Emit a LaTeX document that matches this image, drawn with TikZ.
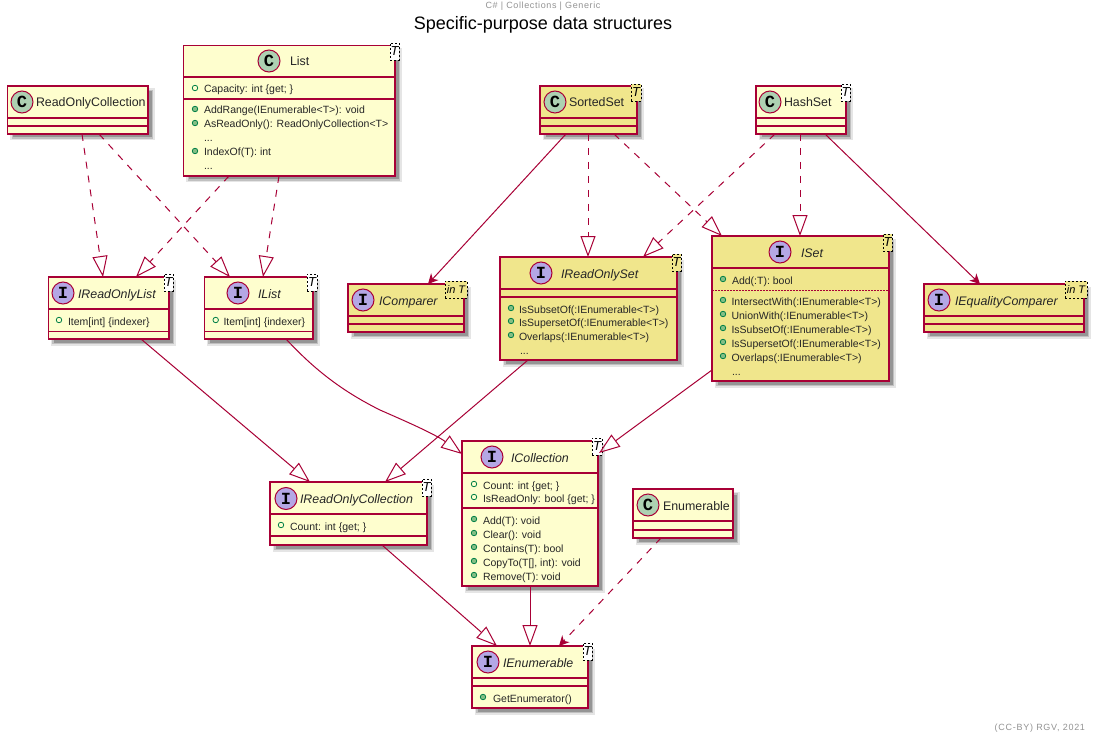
\documentclass[tikz,border=0pt]{standalone}
\usepackage{fontspec}
\setmainfont{Liberation Sans}
\newfontfamily\iconfont{Liberation Mono}
\usetikzlibrary{arrows.meta,calc}
\definecolor{umlred}{HTML}{A80036}
\definecolor{umlyel}{HTML}{FEFECE}
\definecolor{umlkha}{HTML}{F0E68C}
\definecolor{umlcls}{HTML}{ADD1B2}
\definecolor{umlint}{HTML}{B4A7E5}
\definecolor{umlgrn}{HTML}{038048}
\definecolor{umlmet}{HTML}{84BE84}
\tikzset{
  x=1pt,y=-1pt,
  boxstyle/.style={draw=umlred,line width=1.5pt,inner sep=0pt,outer sep=0pt,rectangle},
  sepline/.style={draw=umlred,line width=1.5pt},
  txt/.style={inner sep=0pt,outer sep=0pt,anchor=base west,text=black!85},
  nametxt/.style={txt,font=\fontsize{12.4}{15}\selectfont},
  inametxt/.style={txt,font=\fontsize{12.4}{15}\selectfont\itshape},
  memtxt/.style={txt,font=\fontsize{10.5}{13}\selectfont},
  icon/.style={circle,draw=umlred,line width=1pt,minimum size=22pt,inner sep=0pt,outer sep=0pt,font=\fontsize{17}{17}\selectfont\bfseries\iconfont},
  tagbox/.style={draw=black,line width=.8pt,dash pattern=on 2pt off 2pt,inner sep=0pt,outer sep=0pt,rectangle,font=\fontsize{11}{11}\selectfont\itshape},
  impl/.style={draw=umlred,line width=1pt,dash pattern=on 7pt off 7pt,-{Triangle[open,length=21pt,width=15pt,fill=none]}},
  ext/.style={draw=umlred,line width=1pt,-{Triangle[open,length=21pt,width=15pt,fill=none]}},
  asc/.style={draw=umlred,line width=1pt,-{Stealth[length=10pt,width=10pt,inset=3pt]}},
  dep/.style={draw=umlred,line width=1pt,dash pattern=on 7pt off 7pt,-{Stealth[length=10pt,width=10pt,inset=3pt]}},
  fieldmark/.style={circle,draw=umlgrn,line width=.8pt,minimum size=5.5pt,inner sep=0pt},
  methmark/.style={circle,draw=umlgrn,fill=umlmet,line width=.8pt,minimum size=5.5pt,inner sep=0pt},
  graytxt/.style={inner sep=0pt,outer sep=0pt,text=gray!85}
}
\newcount\nn
\newcommand\TT{{\fontsize{13}{13}\selectfont T}}
\newcommand\umlbox[6]{% name x1 y1 x2 y2 fill
  \foreach \d/\o in {2/.10,0.5/.16,-1/.22}{
    \fill[black,opacity=\o] ({#2+4.5-\d},{#3+4.5-\d}) rectangle ({#4+4.5+\d},{#5+4.5+\d});}
  \pgfmathsetmacro\bw{#4-#2}\pgfmathsetmacro\bh{#5-#3}
  \node[boxstyle,fill=#6,minimum width=\bw pt,minimum height=\bh pt] (#1) at ({(#2+#4)/2},{(#3+#5)/2}) {};
}
\newcommand\sepl[3]{\draw[sepline] (#1,#3) -- (#2,#3);}
\newcommand\cicon[3]{\global\advance\nn by 1 \node[icon,fill=umlcls] (n\the\nn) at (#1,#2) {#3};}
\newcommand\iicon[3]{\global\advance\nn by 1 \node[icon,fill=umlint] (n\the\nn) at (#1,#2) {#3};}
\newcommand\cname[3]{\global\advance\nn by 1 \node[nametxt] (n\the\nn) at (#1,#2+5) {#3};}
\newcommand\iname[3]{\global\advance\nn by 1 \node[inametxt] (n\the\nn) at (#1,#2+5) {#3};}
\newcommand\tagb[6]{\global\advance\nn by 1 \pgfmathsetmacro\bw{#3-#1}\pgfmathsetmacro\bh{#4-#2}
  \node[tagbox,fill=#5,minimum width=\bw pt,minimum height=\bh pt] (n\the\nn) at ({(#1+#3)/2},{(#2+#4)/2}) {#6};}
\newcommand\fld[4]{\global\advance\nn by 1 \node[fieldmark] (n\the\nn) at (#1,#3-1) {};
  \global\advance\nn by 1 \node[memtxt] (n\the\nn) at (#2,#3+4) {#4};}
\newcommand\met[4]{\global\advance\nn by 1 \node[methmark] (n\the\nn) at (#1,#3-1) {};
  \global\advance\nn by 1 \node[memtxt] (n\the\nn) at (#2,#3+4) {#4};}
\newcommand\plain[3]{\global\advance\nn by 1 \node[memtxt] (n\the\nn) at (#1,#2+4) {#3};}
% connector: style, from node, offset along bottom edge, to node, offset along top edge
\newcommand\conn[5]{\draw[#1] ($(#2.south west)+(#3,0)$) -- ($(#4.north west)+(#5,0)$);}
\begin{document}
\begin{tikzpicture}
\useasboundingbox (0,0) rectangle (1097,738);
\fill[white] (0,0) rectangle (1097,738);
% header, title, footer
\node[graytxt,font=\fontsize{9}{11}\selectfont\addfontfeature{LetterSpace=7}] (hdr) at (543,6) {C\# | Collections | Generic};
\node[inner sep=0pt,font=\fontsize{18}{20}\selectfont] (ttl) at (543,25) {Specific-purpose data structures};
\node[graytxt,font=\fontsize{9}{11}\selectfont\addfontfeature{LetterSpace=8},anchor=east] (ftr) at (1085,728) {(CC-BY) RGV, 2021};
% ReadOnlyCollection
\umlbox{rocoll}{7.5}{86}{148}{134}{umlyel}
\sepl{7.5}{148}{118}\sepl{7.5}{148}{126}
\cicon{22}{102}{C}\cname{36}{102}{ReadOnlyCollection}
% List
\umlbox{list}{183.5}{45.5}{395}{176}{umlyel}
\sepl{183.5}{395}{77}\sepl{183.5}{395}{99}
\cicon{269}{61}{C}\cname{290}{61}{List}
\tagb{390}{43}{399}{60}{white}{\TT}
\fld{195}{204}{89}{Capacity: int \{get; \}}
\met{195}{204}{110}{AddRange(IEnumerable<T>): void}
\met{195}{204}{124}{AsReadOnly(): ReadOnlyCollection<T>}
\plain{204}{138}{...}
\met{195}{204}{152}{IndexOf(T): int}
\plain{204}{166}{...}
% SortedSet
\umlbox{sorted}{540}{86}{637}{134}{umlkha}
\sepl{540}{637}{118}\sepl{540}{637}{126}
\cicon{555}{102}{C}\cname{569}{102}{SortedSet}
\tagb{631}{84}{641}{101}{umlkha}{\TT}
% HashSet
\umlbox{hash}{756}{86}{846}{134}{umlyel}
\sepl{756}{846}{118}\sepl{756}{846}{126}
\cicon{770}{102}{C}\cname{784}{102}{HashSet}
\tagb{841}{84}{850}{101}{white}{\TT}
% IReadOnlyList
\umlbox{irolist}{48.3}{277}{169}{339}{umlyel}
\sepl{48.3}{169}{309}\sepl{48.3}{169}{331.5}
\iicon{63}{293}{I}\iname{78}{293}{IReadOnlyList}
\tagb{164}{274}{173}{291}{white}{\TT}
\fld{59}{68}{321}{Item[int] \{indexer\}}
% IList
\umlbox{ilist}{204.3}{277}{313}{339}{umlyel}
\sepl{204.3}{313}{309}\sepl{204.3}{313}{331.5}
\iicon{238}{293}{I}\iname{258}{293}{IList}
\tagb{307}{274}{317}{291}{white}{\TT}
\fld{215.7}{223.5}{321}{Item[int] \{indexer\}}
% IComparer
\umlbox{icomp}{348}{284}{464}{332}{umlkha}
\sepl{348}{464}{316}\sepl{348}{464}{324}
\iicon{363}{300}{I}\iname{379}{300}{IComparer}
\tagb{445}{281}{467}{298}{umlkha}{in T}
% IReadOnlySet
\umlbox{iroset}{500}{257}{677}{360}{umlkha}
\sepl{500}{677}{289}\sepl{500}{677}{297}
\iicon{541}{273}{I}\iname{561}{273}{IReadOnlySet}
\tagb{672}{254}{681}{271}{umlkha}{\TT}
\met{511}{519}{309}{IsSubsetOf(:IEnumerable<T>)}
\met{511}{519}{322}{IsSupersetOf(:IEnumerable<T>)}
\met{511}{519}{336}{Overlaps(:IEnumerable<T>)}
\plain{520}{350}{...}
% ISet
\umlbox{iset}{712}{236}{889}{381}{umlkha}
\sepl{712}{889}{268}
\draw[draw=umlred,line width=.8pt,dash pattern=on 1.5pt off 1.5pt] (712,290) -- (889,290);
\iicon{780}{252}{I}\iname{801}{252}{ISet}
\tagb{883}{234}{892}{251}{umlkha}{\TT}
\met{723}{732}{280}{Add(:T): bool}
\met{723}{731.5}{301}{IntersectWith(:IEnumerable<T>)}
\met{723}{731.5}{315}{UnionWith(:IEnumerable<T>)}
\met{723}{731.5}{329}{IsSubsetOf(:IEnumerable<T>)}
\met{723}{731.5}{343}{IsSupersetOf(:IEnumerable<T>)}
\met{723}{731.5}{357}{Overlaps(:IEnumerable<T>)}
\plain{732}{371}{...}
% IEqualityComparer
\umlbox{ieqc}{924}{284}{1084}{332}{umlkha}
\sepl{924}{1084}{316}\sepl{924}{1084}{324}
\iicon{939}{300}{I}\iname{955}{300}{IEqualityComparer}
\tagb{1065}{281}{1087}{298}{umlkha}{in T}
% IReadOnlyCollection
\umlbox{irocoll}{270}{482}{427}{545}{umlyel}
\sepl{270}{427}{514}\sepl{270}{427}{536}
\iicon{286}{498.5}{I}\iname{300}{498.5}{IReadOnlyCollection}
\tagb{422}{479}{431}{496}{white}{\TT}
\fld{281}{290}{526}{Count: int \{get; \}}
% ICollection
\umlbox{icoll}{462}{441}{598}{586}{umlyel}
\sepl{462}{598}{473}\sepl{462}{598}{508}
\iicon{492}{457}{I}\iname{511}{457}{ICollection}
\tagb{592}{438}{602}{455}{white}{\TT}
\fld{474}{483}{485}{Count: int \{get; \}}
\fld{474}{483}{498}{IsReadOnly: bool \{get; \}}
\met{474}{483}{520}{Add(T): void}
\met{474}{483}{534}{Clear(): void}
\met{474}{483}{548}{Contains(T): bool}
\met{474}{483}{562}{CopyTo(T[], int): void}
\met{474}{483}{576}{Remove(T): void}
% Enumerable
\umlbox{enumer}{633}{489}{733}{538}{umlyel}
\sepl{633}{733}{521}\sepl{633}{733}{530}
\cicon{648}{505}{C}\cname{663}{505}{Enumerable}
% IEnumerable
\umlbox{ienum}{472}{646}{588}{708}{umlyel}
\sepl{472}{588}{678}\sepl{472}{588}{686}
\iicon{488}{662}{I}\iname{503}{662}{IEnumerable}
\tagb{583}{643}{592}{660}{white}{\TT}
\met{483}{493}{698}{GetEnumerator()}
% connectors
\conn{impl}{rocoll}{74.5}{irolist}{54.7}
\conn{impl}{rocoll}{91.5}{ilist}{25.7}
\conn{impl}{list}{45.5}{irolist}{87.7}
\conn{impl}{list}{95.5}{ilist}{58.7}
\conn{asc}{sorted}{26}{icomp}{80}
\conn{impl}{sorted}{48}{iroset}{88}
\conn{impl}{sorted}{74}{iset}{10}
\conn{impl}{hash}{19}{iroset}{143}
\conn{impl}{hash}{44}{iset}{88}
\conn{asc}{hash}{69}{ieqc}{56}
\conn{ext}{irolist}{92.7}{irocoll}{40}
\conn{ext}{iroset}{28}{irocoll}{115}
\draw[ext] ($(ilist.south west)+(81.7,0)$) .. controls (313,368) and (340,390) .. (380,410) .. controls (405,421) and (435,434) .. ($(icoll.north west)+(0,13)$);
\draw[ext] ($(iset.north west)+(0,134)$) -- ($(icoll.north east)+(1,12)$);
\conn{ext}{irocoll}{112}{ienum}{25}
\conn{ext}{icoll}{68}{ienum}{58}
\conn{dep}{enumer}{28}{ienum}{87}
\end{tikzpicture}
\end{document}
